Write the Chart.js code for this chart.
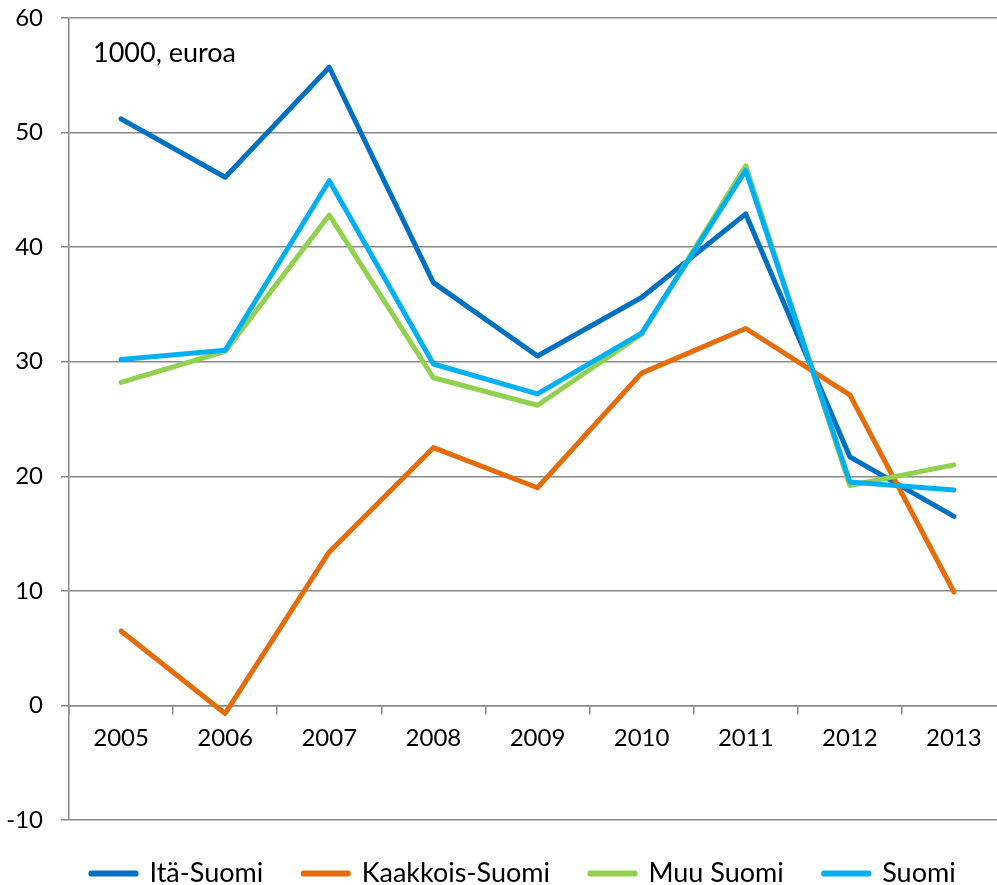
<!DOCTYPE html>
<html>
<head>
<meta charset="utf-8">
<script src="https://cdn.jsdelivr.net/npm/chart.js@4"></script>
<style>
  html, body { margin: 0; padding: 0; overflow: hidden; background: #fff; }
  #wrap { width: 997px; height: 885px; overflow: hidden; }
</style>
</head>
<body>
<div id="wrap"><canvas id="chart" width="1006" height="897"></canvas></div>
<script>
// Data
const years = ["2005", "2006", "2007", "2008", "2009", "2010", "2011", "2012", "2013"];
const itaSuomi = [51.2, 46.1, 55.7, 36.9, 30.5, 35.6, 42.9, 21.7, 16.5];
const kaakkoisSuomi = [6.5, -0.7, 13.4, 22.5, 19.0, 29.0, 32.9, 27.1, 9.9];
const muuSuomi = [28.2, 30.9, 42.8, 28.6, 26.2, 32.4, 47.1, 19.2, 21.0];
const suomi = [30.2, 31.0, 45.8, 29.8, 27.2, 32.5, 46.7, 19.5, 18.8];
const seriesNames = ["Itä-Suomi", "Kaakkois-Suomi", "Muu Suomi", "Suomi"];
const seriesColors = ["#0070C0", "#E46C0A", "#92D050", "#00B0F0"];
const yMin = -10, yMax = 60, yStep = 10;
const unitLabel = "1000, euroa";

const gridColor = "#888888";
const fontFamily = "Lato, 'Open Sans', sans-serif";

// unit text inside the plot, top left
const unitText = {
    id: "unitText",
    afterLayout(chart) {
        // let the y labels use the space left of the legend's start
        chart.scales.y.left = 0;
    },
    afterDraw(chart) {
        const ctx = chart.ctx;
        ctx.save();
        ctx.font = "27px " + fontFamily;
        ctx.fillStyle = "#000";
        ctx.textBaseline = "alphabetic";
        ctx.fillText(unitLabel, chart.chartArea.left + 24, 62);
        ctx.restore();
    }
};

function makeSet(i, values) {
    return {
        label: seriesNames[i],
        data: values,
        borderColor: seriesColors[i],
        backgroundColor: seriesColors[i],
        borderWidth: 5,
        borderCapStyle: "round",
        borderJoinStyle: "round",
        pointRadius: 0,
        tension: 0,
        fill: false,
        order: 4 - i // later series on top, like the original
    };
}

const ctx = document.getElementById("chart").getContext("2d");
new Chart(ctx, {
    type: "line",
    data: {
        labels: years,
        datasets: [
            makeSet(0, itaSuomi),
            makeSet(1, kaakkoisSuomi),
            makeSet(2, muuSuomi),
            makeSet(3, suomi)
        ]
    },
    options: {
        responsive: false,
        animation: false,
        layout: { padding: { top: 18, right: 0, left: 51, bottom: 0 } },
        plugins: {
            tooltip: { enabled: false },
            legend: {
                position: "bottom",
                align: "start",
                labels: {
                    sort: (a, b) => a.datasetIndex - b.datasetIndex,
                    boxWidth: 45,
                    boxHeight: 1,
                    padding: 40,
                    color: "#000",
                    font: { family: fontFamily, size: 27 }
                }
            }
        },
        scales: {
            x: {
                type: "category",
                position: { y: 0 },
                offset: true,
                grid: {
                    offset: true,
                    drawOnChartArea: false,
                    tickLength: 8,
                    color: gridColor,
                    lineWidth: 1.5
                },
                border: { color: gridColor, width: 1.5 },
                ticks: {
                    color: "#000",
                    padding: 10,
                    maxRotation: 0,
                    font: { family: fontFamily, size: 24 }
                }
            },
            y: {
                min: yMin,
                max: yMax,
                afterFit: (scale) => {
                    scale.width = 18;
                    scale.paddingTop = 0;
                    scale.paddingBottom = 0;
                },
                grid: {
                    color: gridColor,
                    lineWidth: 1.5,
                    tickLength: 8
                },
                border: { color: gridColor, width: 1.5 },
                ticks: {
                    stepSize: yStep,
                    color: "#000",
                    padding: 18,
                    font: { family: fontFamily, size: 24 }
                }
            }
        }
    },
    plugins: [unitText]
});
</script>
</body>
</html>
